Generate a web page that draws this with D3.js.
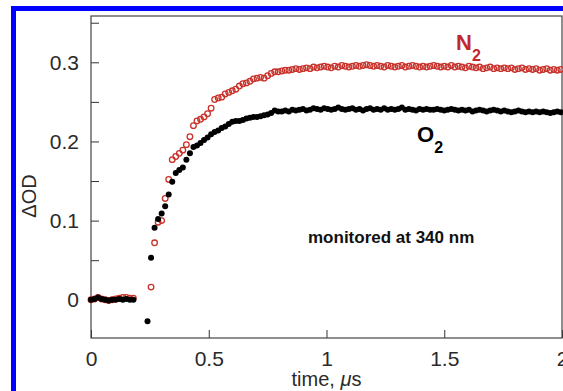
<!DOCTYPE html>
<html>
<head>
<meta charset="utf-8">
<script src="https://cdn.jsdelivr.net/npm/d3@7/dist/d3.min.js"></script>
<style>
  html, body { margin: 0; padding: 0; background: #fff; }
  svg { display: block; }
  text { font-family: "Liberation Sans", Arial, Helvetica, sans-serif; }
</style>
</head>
<body>
<svg id="chart"></svg>
<script>
// time axis (microseconds), shared by both traces
var time = [
  0, 0.015, 0.03, 0.045, 0.06, 0.075, 0.09, 0.105, 0.12, 0.135, 0.15, 0.165, 0.18,
  0.24, 0.255, 0.27, 0.285, 0.3, 0.315, 0.33, 0.345, 0.36, 0.375,
  0.39, 0.405, 0.42, 0.435, 0.45, 0.465, 0.48, 0.495, 0.51, 0.525,
  0.54, 0.555, 0.57, 0.585, 0.6, 0.615, 0.63, 0.645, 0.66, 0.675,
  0.69, 0.705, 0.72, 0.735, 0.75, 0.765, 0.78, 0.795, 0.81, 0.825,
  0.84, 0.855, 0.87, 0.885, 0.9, 0.915, 0.93, 0.945, 0.96, 0.975,
  0.99, 1.005, 1.02, 1.035, 1.05, 1.065, 1.08, 1.095, 1.11, 1.125,
  1.14, 1.155, 1.17, 1.185, 1.2, 1.215, 1.23, 1.245, 1.26, 1.275,
  1.29, 1.305, 1.32, 1.335, 1.35, 1.365, 1.38, 1.395, 1.41, 1.425,
  1.44, 1.455, 1.47, 1.485, 1.5, 1.515, 1.53, 1.545, 1.56, 1.575,
  1.59, 1.605, 1.62, 1.635, 1.65, 1.665, 1.68, 1.695, 1.71, 1.725,
  1.74, 1.755, 1.77, 1.785, 1.8, 1.815, 1.83, 1.845, 1.86, 1.875,
  1.89, 1.905, 1.92, 1.935, 1.95, 1.965, 1.98, 1.995
];

// N2 trace (open red circles), null = no point
var n2 = [
  0.000, 0.001, 0.003, 0.001, 0.000, -0.001, 0.000, 0.001, 0.002, 0.003, 0.003, 0.002, 0.002,
  null, 0.016, 0.072, 0.098, 0.100, 0.128, 0.152, 0.177, 0.181, 0.185,
  0.189, 0.196, 0.206, 0.220, 0.226, 0.228, 0.231, 0.235, 0.242, 0.253,
  0.255, 0.256, 0.260, 0.262, 0.264, 0.266, 0.270, 0.273, 0.274, 0.276,
  0.279, 0.280, 0.281, 0.280, 0.283, 0.286, 0.288, 0.288, 0.289, 0.290,
  0.290, 0.291, 0.292, 0.291, 0.292, 0.293, 0.292, 0.294, 0.293, 0.294,
  0.295, 0.294, 0.293, 0.295, 0.294, 0.296, 0.295, 0.294, 0.295, 0.296,
  0.295, 0.296, 0.297, 0.296, 0.295, 0.296, 0.295, 0.294, 0.296, 0.295,
  0.294, 0.295, 0.296, 0.294, 0.295, 0.296, 0.295, 0.294, 0.295, 0.294,
  0.295, 0.296, 0.295, 0.294, 0.295, 0.294, 0.296, 0.294, 0.295, 0.294,
  0.293, 0.295, 0.294, 0.293, 0.294, 0.292, 0.293, 0.294, 0.292, 0.293,
  0.292, 0.293, 0.292, 0.293, 0.291, 0.292, 0.293, 0.291, 0.292, 0.291,
  0.292, 0.290, 0.291, 0.292, 0.290, 0.291, 0.290, 0.291
];

// O2 trace (filled black dots)
var o2 = [
  0.000, 0.001, 0.003, 0.001, 0.000, -0.001, 0.000, 0.000, 0.001, 0.000, 0.001, 0.000, 0.000,
  -0.027, 0.053, 0.091, 0.102, 0.109, 0.118, 0.133, 0.149, 0.160, 0.164,
  0.167, 0.177, 0.185, 0.193, 0.195, 0.198, 0.202, 0.205, 0.209, 0.212,
  0.214, 0.217, 0.219, 0.222, 0.225, 0.226, 0.226, 0.227, 0.229, 0.230,
  0.231, 0.231, 0.232, 0.233, 0.234, 0.236, 0.239, 0.238, 0.238, 0.239,
  0.238, 0.240, 0.239, 0.240, 0.241, 0.239, 0.240, 0.242, 0.241, 0.240,
  0.242, 0.241, 0.240, 0.241, 0.243, 0.241, 0.240, 0.241, 0.242, 0.240,
  0.241, 0.239, 0.241, 0.242, 0.240, 0.241, 0.240, 0.242, 0.240, 0.241,
  0.240, 0.241, 0.243, 0.240, 0.241, 0.240, 0.239, 0.241, 0.240, 0.241,
  0.240, 0.240, 0.241, 0.240, 0.239, 0.240, 0.241, 0.240, 0.239, 0.240,
  0.239, 0.240, 0.238, 0.239, 0.240, 0.239, 0.238, 0.239, 0.240, 0.239,
  0.238, 0.239, 0.238, 0.237, 0.238, 0.239, 0.238, 0.237, 0.238, 0.237,
  0.238, 0.237, 0.238, 0.237, 0.236, 0.237, 0.238, 0.237
];

// ticks
var xTickValues = [0, 0.5, 1, 1.5, 2];
var yTickValues = [0, 0.1, 0.2, 0.3];
var yMinorTicks = [0.05, 0.15, 0.25, 0.35];

// sizes
var fullWidth = 563;
var fullHeight = 391;
var plot = {left: 91, top: 16, right: 562, bottom: 338};
var pointRadius = 3;

var svg = d3.select("#chart")
  .attr("width", fullWidth)
  .attr("height", fullHeight);

// blue frame round the figure (runs off the right and bottom)
svg.append("rect")
  .attr("x", 13.5)
  .attr("y", 8.5)
  .attr("width", 620)
  .attr("height", 420)
  .attr("fill", "none")
  .attr("stroke", "#0000ff")
  .attr("stroke-width", 5);

var xScale = d3.scaleLinear()
  .domain([0, 2])
  .range([plot.left, plot.right]);

var yScale = d3.scaleLinear()
  .domain([-0.0483, 0.3585])
  .range([plot.bottom, plot.top]);

// axes with inward ticks
var xAxis = d3.axisBottom(xScale)
  .tickValues(xTickValues)
  .tickSizeInner(-8)
  .tickSizeOuter(0)
  .tickPadding(13)
  .tickFormat(function(d) { return String(d); });

var yAxis = d3.axisLeft(yScale)
  .tickValues(yTickValues)
  .tickSizeInner(-8)
  .tickSizeOuter(0)
  .tickPadding(12)
  .tickFormat(function(d) { return String(d); });

var yMinorAxis = d3.axisLeft(yScale)
  .tickValues(yMinorTicks)
  .tickSizeInner(-8)
  .tickSizeOuter(0)
  .tickFormat("");

svg.append("g")
  .attr("class", "x axis")
  .attr("transform", "translate(0," + plot.bottom + ")")
  .call(xAxis);

svg.append("g")
  .attr("class", "y axis")
  .attr("transform", "translate(" + plot.left + ",0)")
  .call(yAxis);

svg.append("g")
  .attr("class", "y minor axis")
  .attr("transform", "translate(" + plot.left + ",0)")
  .call(yMinorAxis);

svg.selectAll(".axis .domain").remove();
svg.selectAll(".axis line").attr("stroke", "#333");
svg.selectAll(".axis text")
  .attr("fill", "#2a2a2a")
  .style("font-size", "21px");

// plot box
svg.append("rect")
  .attr("x", plot.left)
  .attr("y", plot.top)
  .attr("width", plot.right - plot.left)
  .attr("height", plot.bottom - plot.top)
  .attr("fill", "none")
  .attr("stroke", "#444")
  .attr("stroke-width", 1.2);

// axis titles
var xTitle = svg.append("text")
  .attr("x", xScale(1))
  .attr("y", 386)
  .attr("text-anchor", "middle")
  .attr("fill", "#2a2a2a")
  .style("font-size", "20px");
xTitle.append("tspan").text("time, ");
xTitle.append("tspan").style("font-style", "italic").text("\u03bc");
xTitle.append("tspan").text("s");

svg.append("text")
  .attr("transform", "translate(36,196) rotate(-90)")
  .attr("text-anchor", "middle")
  .attr("fill", "#2a2a2a")
  .style("font-size", "20px")
  .text("\u0394OD");

// build point lists, skipping gaps
var n2Points = time.map(function(t, i) { return {t: t, v: n2[i]}; })
  .filter(function(d) { return d.v !== null; });
var o2Points = time.map(function(t, i) { return {t: t, v: o2[i]}; })
  .filter(function(d) { return d.v !== null; });

// N2 first so the black dots sit on top
svg.append("g")
  .selectAll("circle")
  .data(n2Points)
  .enter().append("circle")
  .attr("cx", function(d) { return xScale(d.t); })
  .attr("cy", function(d) { return yScale(d.v); })
  .attr("r", pointRadius - 0.2)
  .attr("fill", "none")
  .attr("stroke", "#c8322b")
  .attr("stroke-width", 1.3);

svg.append("g")
  .selectAll("circle")
  .data(o2Points)
  .enter().append("circle")
  .attr("cx", function(d) { return xScale(d.t); })
  .attr("cy", function(d) { return yScale(d.v); })
  .attr("r", pointRadius)
  .attr("fill", "#000");

// series labels
var n2Label = svg.append("text")
  .attr("x", 456)
  .attr("y", 50)
  .attr("fill", "#c1272d")
  .style("font-size", "22px")
  .style("font-weight", "bold");
n2Label.append("tspan").text("N");
n2Label.append("tspan").attr("dy", 11).style("font-size", "16px").text("2");

var o2Label = svg.append("text")
  .attr("x", 417)
  .attr("y", 142)
  .attr("fill", "#000")
  .style("font-size", "22px")
  .style("font-weight", "bold");
o2Label.append("tspan").text("O");
o2Label.append("tspan").attr("dy", 11).style("font-size", "16px").text("2");

svg.append("text")
  .attr("x", 308)
  .attr("y", 243)
  .attr("fill", "#111")
  .style("font-size", "17px")
  .style("font-weight", "bold")
  .text("monitored at 340 nm");
</script>
</body>
</html>
